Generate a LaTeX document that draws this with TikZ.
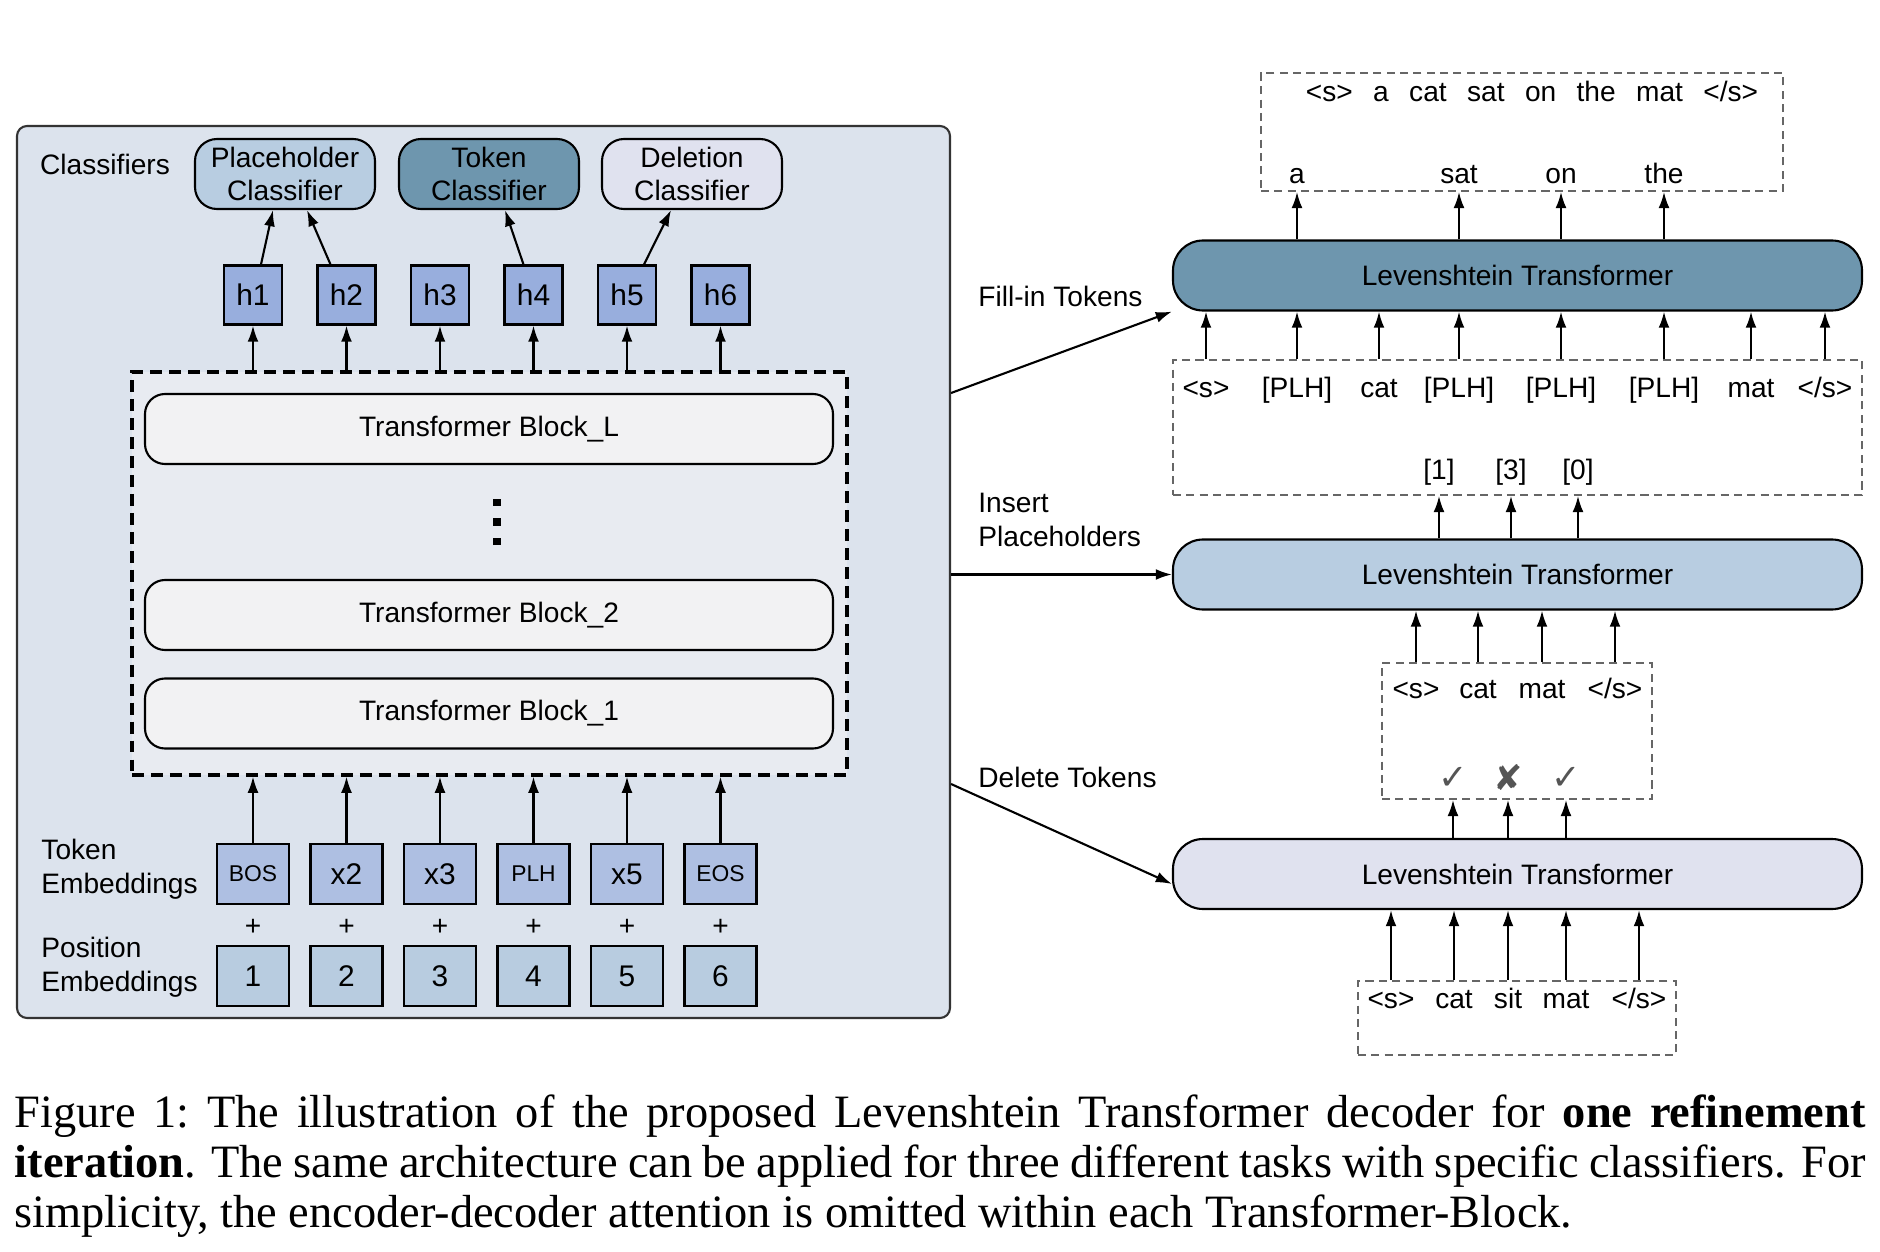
\documentclass[tikz,border=0pt]{standalone}
\usepackage{fontspec}
\setmainfont{Liberation Serif}
\setsansfont{Liberation Sans}
\newfontfamily\markfont{DejaVu Sans}
\usepackage{tikz}
\usetikzlibrary{calc,arrows.meta}

\definecolor{panelbg}{HTML}{DCE3ED}
\definecolor{stackbg}{HTML}{E8EBF1}
\definecolor{blockbg}{HTML}{F2F2F3}
\definecolor{plhcol}{HTML}{B8CDE1}
\definecolor{tokcol}{HTML}{6E96AE}
\definecolor{delcol}{HTML}{E0E2EF}
\definecolor{hcol}{HTML}{98AEDD}
\definecolor{embcol}{HTML}{AEBFE2}
\definecolor{poscol}{HTML}{B8CCE0}
\definecolor{markgray}{HTML}{555555}

\newcommand{\smtok}[1]{{\fontsize{6.5}{7.8}\selectfont #1}}
\newcommand{\bos}{\textless s\textgreater}
\newcommand{\eos}{\textless/s\textgreater}
\newcommand{\plh}{\lbrack PLH\rbrack}
\newcommand{\cnt}[1]{\lbrack#1\rbrack}

\tikzset{
	panel/.style={draw=black!80, line width=0.6pt, fill=panelbg, rounded corners=1mm},
	stack/.style={draw, line width=0.9pt, dash pattern=on 3.4pt off 2pt, fill=stackbg},
	block/.style={draw, line width=0.6pt, fill=blockbg, rounded corners=2mm, minimum width=68.8mm, minimum height=7mm},
	cls/.style={draw, line width=0.6pt, rounded corners=2.2mm, minimum width=18mm, minimum height=7mm, align=center, inner sep=1pt},
	hbox/.style={draw, rectangle, line width=0.6pt, fill=hcol, minimum width=5.8mm, minimum height=5.9mm, font=\sffamily\fontsize{8.5}{10}\selectfont},
	embbox/.style={draw, rectangle, line width=0.6pt, minimum width=7.2mm, minimum height=6mm, font=\sffamily\fontsize{8.5}{10}\selectfont},
	lt/.style={draw, line width=0.6pt, rounded corners=3mm, minimum width=68.9mm, minimum height=7mm},
	tokline/.style={draw=black!60, line width=0.5pt, dash pattern=on 2.3pt off 1.5pt, inner sep=0pt},
	word/.style={text height=6pt, text depth=1.8pt, inner sep=1pt},
	arr/.style={->, line width=0.6pt}
}

\begin{document}
\begin{tikzpicture}[x=0.1mm, y=-0.1mm, font=\sffamily\fontsize{8}{9.6}\selectfont, >={Latex[length=4.6pt,width=3.1pt]}]
\useasboundingbox (0,0) rectangle (1880,1252);

% Decoder
\node[panel, minimum width=93.3mm, minimum height=89.2mm] (panel) at (483.5,572) {};
\node (clsname) at (105,164) {Classifiers};
\node[cls, fill=plhcol] (plhcls) at (285,174) {Placeholder\\Classifier};
\node[cls, fill=tokcol] (tokcls) at (489,174) {Token\\Classifier};
\node[cls, fill=delcol] (delcls) at (692,174) {Deletion\\Classifier};

\node[stack, minimum width=71.5mm, minimum height=40.3mm] (stack) at (489.5,573.5) {};
\node[block] (blockL) at (489,429) {Transformer Block\_L};
\node[align=center, inner sep=0pt, font=\fontsize{6}{5.6}\selectfont] (vdots) at (497,522) {\rule{2pt}{2pt}\\\rule{2pt}{2pt}\\\rule{2pt}{2pt}};
\node[block] (block2) at (489,615) {Transformer Block\_2};
\node[block] (block1) at (489,713.5) {Transformer Block\_1};

\coordinate (s) at (253,295);
\foreach \i in {1,...,6}{
	\node[hbox] (h\i) at (s) {h\i};
	\coordinate (s) at ($(s) + (93.5,0)$);
}

\coordinate (s) at (253,874);
\foreach \tok [count=\i] in {\smtok{BOS},x2,x3,\smtok{PLH},x5,\smtok{EOS}}{
	\node[embbox, fill=embcol] (tok\i) at (s) {\tok};
	\node (plus\i) at ($(s) + (0,53)$) {+};
	\node[embbox, fill=poscol] (pos\i) at ($(s) + (0,102)$) {\i};
	\coordinate (s) at ($(s) + (93.5,0)$);
}

\node[anchor=west, align=left] (tokemb) at (29,869) {Token\\Embeddings};
\node[anchor=west, align=left] (posemb) at (29,967) {Position\\Embeddings};

\foreach \i in {1,...,6}{
	\draw[arr] (tok\i.north) -- (tok\i.north |- stack.south);
	\draw[arr] (h\i.south |- stack.north) -- (h\i.south);
}
\draw[arr] ($(h1.north) + (8,0)$) -- ($(plhcls.south) + (-12,0)$);
\draw[arr] ($(h2.north) + (-16,0)$) -- ($(plhcls.south) + (22,0)$);
\draw[arr] ($(h4.north) + (-10,0)$) -- ($(tokcls.south) + (16,0)$);
\draw[arr] ($(h5.north) + (17,0)$) -- ($(delcls.south) + (-21,0)$);

% Levenshtein steps
\node[lt, fill=tokcol] (lt3) at (1517.5,275.5) {Levenshtein Transformer};
\node[lt, fill=plhcol] (lt2) at (1517.5,574.5) {Levenshtein Transformer};
\node[lt, fill=delcol] (lt1) at (1517.5,874) {Levenshtein Transformer};

\node[tokline, minimum width=52.2mm, minimum height=11.8mm] (outbox) at (1522,132) {};
\node[tokline, minimum width=68.9mm, minimum height=13.5mm] (plhbox) at (1517.5,427.5) {};
\node[tokline, minimum width=27mm, minimum height=13.6mm] (delbox) at (1517,731) {};
\node[tokline, minimum width=31.8mm, minimum height=7.4mm] (inbox) at (1517,1018) {};

\node[word] (sent) at (1532,94) {\spaceskip=5.8pt\relax \bos{} a cat sat on the mat \eos};
\foreach \w/\x [count=\i] in {a/1297, sat/1459, on/1561, the/1664}{
	\node[word] (out\i) at (\x,176) {\w};
	\draw[arr] (lt3.north -| out\i) -- (outbox.south -| out\i);
}

\foreach \w/\x [count=\i] in {\bos/1206, \plh/1297, cat/1379, \plh/1459, \plh/1561, \plh/1664, mat/1751, \eos/1825}{
	\node[word] (plh\i) at (\x,390) {\w};
	\draw[arr] (plhbox.north -| plh\i) -- (lt3.south -| plh\i);
}
\foreach \w/\x [count=\i] in {1/1439, 3/1511, 0/1578}{
	\node[word] (num\i) at (\x,472) {\cnt{\w}};
	\draw[arr] (lt2.north -| num\i) -- (plhbox.south -| num\i);
}

\foreach \w/\x [count=\i] in {\bos/1416, cat/1478, mat/1542, \eos/1615}{
	\node[word] (kept\i) at (\x,691) {\w};
	\draw[arr] (delbox.north -| kept\i) -- (lt2.south -| kept\i);
}
\foreach \w/\x [count=\i] in {✓/1453, ✘/1508, ✓/1566}{
	\node[font=\markfont\fontsize{10}{12}\selectfont, text=markgray] (mark\i) at (\x,778) {\w};
	\draw[arr] (lt1.north -| mark\i) -- (delbox.south -| mark\i);
}

\foreach \w/\x [count=\i] in {\bos/1391, cat/1454, sit/1508, mat/1566, \eos/1639}{
	\node[word] (in\i) at (\x,1001) {\w};
	\draw[arr] (inbox.north -| in\i) -- (lt1.south -| in\i);
}

% Aufgaben
\draw[arr] ($(panel.east) + (0,-179)$) -- (lt3.south west);
\draw[arr] (panel.east |- lt2.west) -- (lt2.west);
\draw[arr] ($(panel.east) + (0,212)$) -- ($(lt1.west) + (0,10)$);
\node[anchor=west] (filllbl) at (966,296) {Fill-in Tokens};
\node[anchor=west, align=left] (inslbl) at (966,520) {Insert\\Placeholders};
\node[anchor=west] (dellbl) at (966,777) {Delete Tokens};

\node[anchor=north west, inner sep=0pt, text width=185.1mm, align=justify, font=\rmfamily\fontsize{13.2}{14.3}\selectfont] (caption) at (14,1094) {Figure~1:\ The illustration of the proposed Levenshtein Transformer decoder for \textbf{one refinement}\linebreak \textbf{iteration}. The same architecture can be applied for three different tasks with specific classifiers. For\linebreak simplicity, the encoder-decoder attention is omitted within each Transformer-Block.};
\end{tikzpicture}
\end{document}
